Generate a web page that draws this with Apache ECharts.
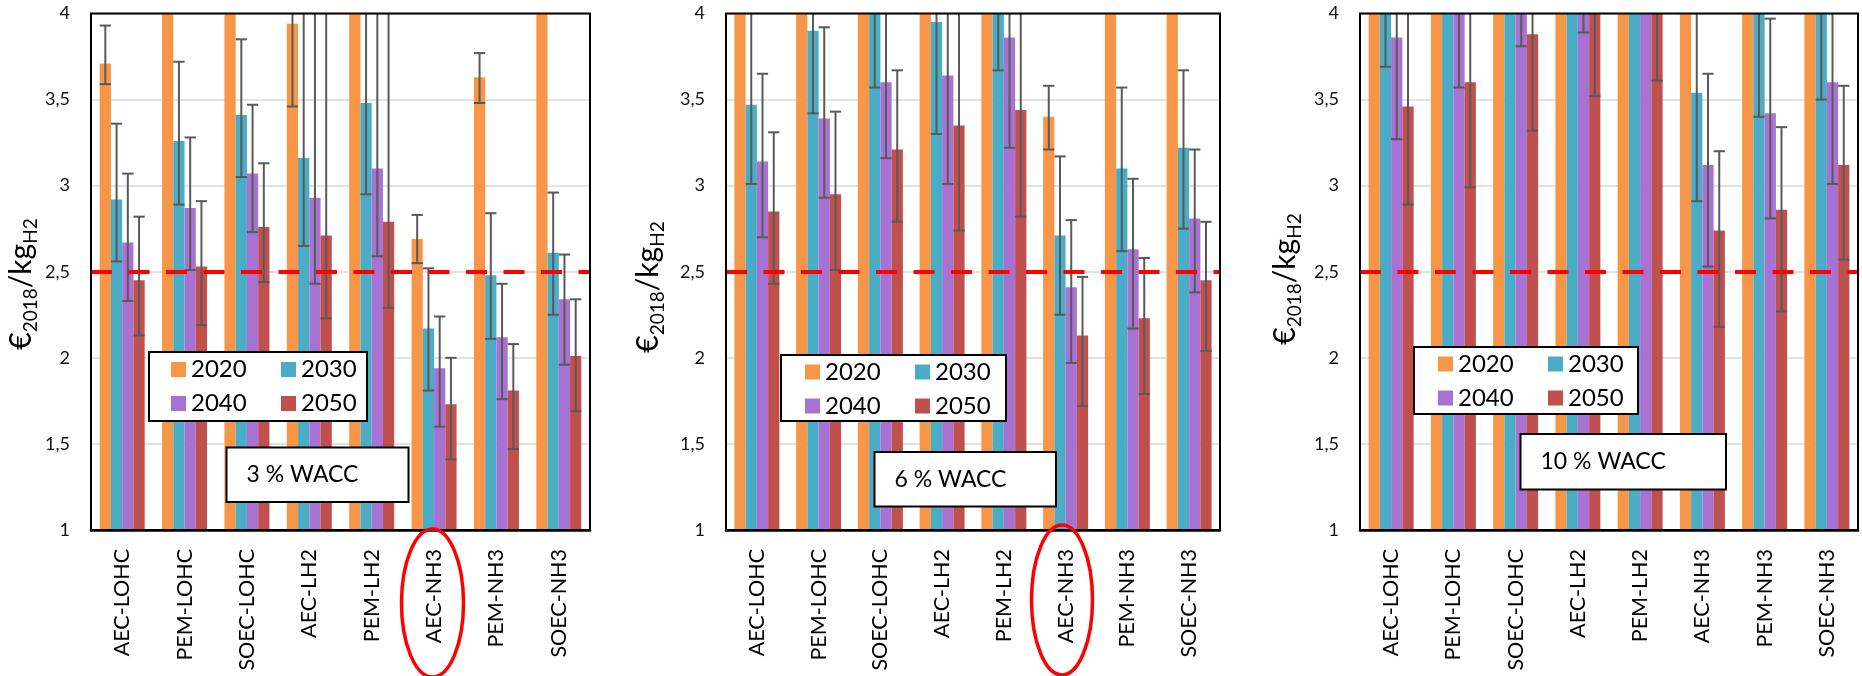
<!DOCTYPE html>
<html>
<head>
<meta charset="utf-8">
<title>H2 supply cost by WACC</title>
<script src="https://cdn.jsdelivr.net/npm/echarts@6/dist/echarts.min.js"></script>
<style>
  html, body { margin: 0; padding: 0; background: #fff; }
  #main { width: 1862px; height: 676px; }
</style>
</head>
<body>
<div id="main"></div>
<script>
var categories = ['AEC-LOHC', 'PEM-LOHC', 'SOEC-LOHC', 'AEC-LH2', 'PEM-LH2', 'AEC-NH3', 'PEM-NH3', 'SOEC-NH3'];
var years = ['2020', '2030', '2040', '2050'];
var yTicks = [1, 1.5, 2, 2.5, 3, 3.5, 4];
var target = 2.5;
var panelTitles = ['3 % WACC', '6 % WACC', '10 % WACC'];

// [value, lower, upper] for each category; anything above 4 runs off the axis
var wacc3_2020 = [[3.71, 3.59, 3.93], [4.6, 4.3, 4.9], [4.5, 4.2, 4.8], [3.94, 3.46, 4.4], [4.8, 4.1, 5.5], [2.69, 2.55, 2.83], [3.63, 3.48, 3.77], [4.5, 4.2, 4.8]];
var wacc3_2030 = [[2.92, 2.56, 3.36], [3.26, 2.89, 3.72], [3.41, 3.05, 3.85], [3.16, 2.65, 4.3], [3.48, 2.95, 4.3], [2.17, 1.81, 2.52], [2.48, 2.11, 2.84], [2.61, 2.25, 2.96]];
var wacc3_2040 = [[2.67, 2.33, 3.07], [2.87, 2.51, 3.28], [3.07, 2.73, 3.47], [2.93, 2.43, 4.2], [3.10, 2.59, 4.2], [1.94, 1.60, 2.24], [2.12, 1.76, 2.43], [2.34, 1.96, 2.60]];
var wacc3_2050 = [[2.45, 2.13, 2.82], [2.53, 2.19, 2.91], [2.76, 2.44, 3.13], [2.71, 2.23, 4.2], [2.79, 2.29, 4.2], [1.73, 1.41, 2.00], [1.81, 1.47, 2.08], [2.01, 1.69, 2.34]];

var wacc6_2020 = [[4.6, 4.3, 4.9], [4.7, 4.4, 5.0], [4.8, 4.4, 5.2], [4.8, 4.3, 5.3], [5.0, 4.4, 5.6], [3.40, 3.21, 3.58], [4.4, 4.1, 4.7], [4.5, 4.2, 4.8]];
var wacc6_2030 = [[3.47, 3.01, 4.1], [3.90, 3.42, 4.4], [4.05, 3.57, 4.6], [3.95, 3.30, 4.6], [4.2, 3.67, 4.8], [2.71, 2.25, 3.17], [3.10, 2.62, 3.57], [3.22, 2.75, 3.67]];
var wacc6_2040 = [[3.14, 2.70, 3.65], [3.39, 2.93, 3.92], [3.60, 3.16, 4.1], [3.64, 3.01, 4.3], [3.86, 3.22, 4.5], [2.41, 1.97, 2.80], [2.63, 2.17, 3.04], [2.81, 2.38, 3.21]];
var wacc6_2050 = [[2.85, 2.43, 3.31], [2.95, 2.51, 3.43], [3.21, 2.79, 3.67], [3.35, 2.74, 4.1], [3.44, 2.82, 4.1], [2.13, 1.72, 2.47], [2.23, 1.79, 2.58], [2.45, 2.04, 2.79]];

var wacc10_2020 = [[4.8, 4.5, 5.1], [5.0, 4.6, 5.4], [5.2, 4.7, 5.7], [5.3, 4.7, 5.9], [5.5, 4.9, 6.1], [4.9, 4.5, 5.3], [5.1, 4.6, 5.6], [5.3, 4.8, 5.8]];
var wacc10_2030 = [[4.2, 3.69, 4.7], [4.5, 4.1, 4.9], [4.6, 4.15, 5.0], [4.7, 4.2, 5.2], [4.9, 4.3, 5.5], [3.54, 2.91, 4.2], [4.05, 3.40, 4.7], [4.15, 3.50, 4.8]];
var wacc10_2040 = [[3.86, 3.27, 4.4], [4.1, 3.57, 4.6], [4.05, 3.81, 4.3], [4.2, 3.89, 4.5], [4.5, 4.1, 4.9], [3.12, 2.53, 3.65], [3.42, 2.81, 3.97], [3.60, 3.01, 4.2]];
var wacc10_2050 = [[3.46, 2.89, 4.1], [3.60, 2.99, 4.2], [3.88, 3.32, 4.4], [4.1, 3.52, 4.6], [4.2, 3.61, 4.8], [2.74, 2.18, 3.20], [2.86, 2.27, 3.34], [3.12, 2.57, 3.58]];

var panelData = [
  [wacc3_2020, wacc3_2030, wacc3_2040, wacc3_2050],
  [wacc6_2020, wacc6_2030, wacc6_2040, wacc6_2050],
  [wacc10_2020, wacc10_2030, wacc10_2040, wacc10_2050]
];

// layout (pixels)
var grids = [
  {left: 91, top: 13.5, width: 499, height: 516.5},
  {left: 726, top: 13.5, width: 494, height: 516.5},
  {left: 1360, top: 13.5, width: 498, height: 516.5}
];
var legendBoxes = [[149, 352, 218, 69], [781, 355, 225, 66], [1414, 347, 224, 67]];
var legendPos = [[171, 353.5], [805, 356], [1438, 348]];
var waccBoxes = [[226.5, 447.5, 182, 54.5], [874.5, 452, 181.5, 54.5], [1520.5, 434, 205.5, 55.5]];
var yTitlePos = [[23, 284], [650, 287], [1287, 279]];
var rings = [[432.5, 603, 31, 74], [1062, 600, 30.5, 75]];

var colors = ['#F79646', '#4BACC6', '#A872D3', '#C0504D'];
var BAR_W = 11.25;
var FONT = 'Lato';

var chart = echarts.init(document.getElementById('main'));

function errorBar(params, api) {
  var cat = api.value(0), k = api.value(1);
  var lo = api.value(2), hi = api.value(3);
  var cs = params.coordSys;
  var top = cs.y, bottom = cs.y + cs.height;
  var x = api.coord([cat, lo])[0] + (k - 1.5) * BAR_W;
  var yLo = api.coord([cat, lo])[1];
  var yHi = api.coord([cat, hi])[1];
  if (yLo <= top) return null;
  var st = {stroke: '#595959', lineWidth: 2};
  var h = BAR_W / 2;
  var kids = [{type: 'line', shape: {x1: x, y1: Math.max(yHi, top), x2: x, y2: Math.min(yLo, bottom)}, style: st}];
  if (yHi >= top) kids.push({type: 'line', shape: {x1: x - h, y1: yHi, x2: x + h, y2: yHi}, style: st});
  if (yLo <= bottom) kids.push({type: 'line', shape: {x1: x - h, y1: yLo, x2: x + h, y2: yLo}, style: st});
  return {type: 'group', children: kids};
}

var series = [];
panelData.forEach(function (sets, p) {
  var err = [];
  sets.forEach(function (rows, k) {
    series.push({
      name: years[k],
      type: 'bar',
      xAxisIndex: p,
      yAxisIndex: p,
      barWidth: BAR_W,
      barGap: '0%',
      itemStyle: {color: colors[k]},
      data: rows.map(function (r) { return r[0]; })
    });
    rows.forEach(function (r, c) { err.push([c, k, r[1], r[2]]); });
  });
  series.push({
    name: 'err' + p,
    type: 'custom',
    xAxisIndex: p,
    yAxisIndex: p,
    renderItem: errorBar,
    encode: {x: 0, y: [2, 3]},
    data: err,
    z: 3,
    silent: true,
    markLine: {
      silent: true,
      symbol: 'none',
      label: {show: false},
      lineStyle: {color: '#FF0000', width: 4, type: [21, 16.5]},
      data: [{yAxis: target}]
    }
  });
});

var graphic = [];
// plot frames
grids.forEach(function (g) {
  graphic.push({type: 'rect', z: 9, silent: true, shape: {x: g.left, y: g.top, width: g.width, height: g.height},
    style: {fill: 'none', stroke: '#000', lineWidth: 2}});
});
legendBoxes.forEach(function (b) {
  graphic.push({type: 'rect', z: 10, shape: {x: b[0], y: b[1], width: b[2], height: b[3]},
    style: {fill: '#fff', stroke: '#000', lineWidth: 2}});
});
waccBoxes.forEach(function (b, i) {
  graphic.push({type: 'rect', z: 10, shape: {x: b[0], y: b[1], width: b[2], height: b[3]},
    style: {fill: '#fff', stroke: '#000', lineWidth: 2}});
  graphic.push({type: 'text', z: 11, x: b[0] + 20, y: b[1] + b[3] / 2,
    style: {text: panelTitles[i], fill: '#000', font: '23px ' + FONT, align: 'left', verticalAlign: 'middle'}});
});
yTitlePos.forEach(function (pt) {
  graphic.push({type: 'text', z: 11, x: pt[0], y: pt[1], rotation: Math.PI / 2,
    style: {
      text: '{m|€}{s|2018}{m|/kg}{s|H2}',
      align: 'center', verticalAlign: 'middle', fill: '#000',
      rich: {
        m: {fontFamily: FONT, fontSize: 30, lineHeight: 34, verticalAlign: 'top', fill: '#000'},
        s: {fontFamily: FONT, fontSize: 19, lineHeight: 19, padding: [18, 0, 0, 0], verticalAlign: 'bottom', fill: '#000'}
      }
    }});
});
rings.forEach(function (r) {
  graphic.push({type: 'ellipse', z: 12, shape: {cx: r[0], cy: r[1], rx: r[2], ry: r[3]},
    style: {fill: 'none', stroke: '#FF0000', lineWidth: 3.5}});
});

var option = {
  animation: false,
  backgroundColor: '#fff',
  grid: grids.map(function (g) {
    return {left: g.left, top: g.top, width: g.width, height: g.height,
      containLabel: false, outerBoundsMode: 'none'};
  }),
  xAxis: grids.map(function (g, i) {
    return {
      type: 'category', gridIndex: i, data: categories,
      axisLine: {show: true, lineStyle: {color: '#000', width: 2.5}},
      axisTick: {show: false},
      axisLabel: {rotate: 90, interval: 0, margin: 19, fontSize: 21.5, fontFamily: FONT, color: '#000'}
    };
  }),
  yAxis: grids.map(function (g, i) {
    return {
      type: 'value', gridIndex: i,
      min: yTicks[0], max: yTicks[yTicks.length - 1], interval: yTicks[1] - yTicks[0],
      axisLine: {show: false},
      axisTick: {show: false},
      splitLine: {lineStyle: {color: '#D9D9D9', width: 1.5}},
      axisLabel: {margin: 21, fontSize: 18, fontFamily: FONT, color: '#111',
        formatter: function (v) { return String(v).replace('.', ','); }}
    };
  }),
  legend: legendPos.map(function (p) {
    return {
      left: p[0], top: p[1], width: 230, padding: 0, itemGap: 2, z: 11,
      orient: 'horizontal', selectedMode: false,
      icon: 'rect', itemWidth: 15, itemHeight: 15,
      textStyle: {fontSize: 24, fontFamily: FONT, color: '#000', width: 88, lineHeight: 32},
      data: years
    };
  }),
  graphic: graphic,
  series: series
};

chart.setOption(option);
</script>
</body>
</html>
